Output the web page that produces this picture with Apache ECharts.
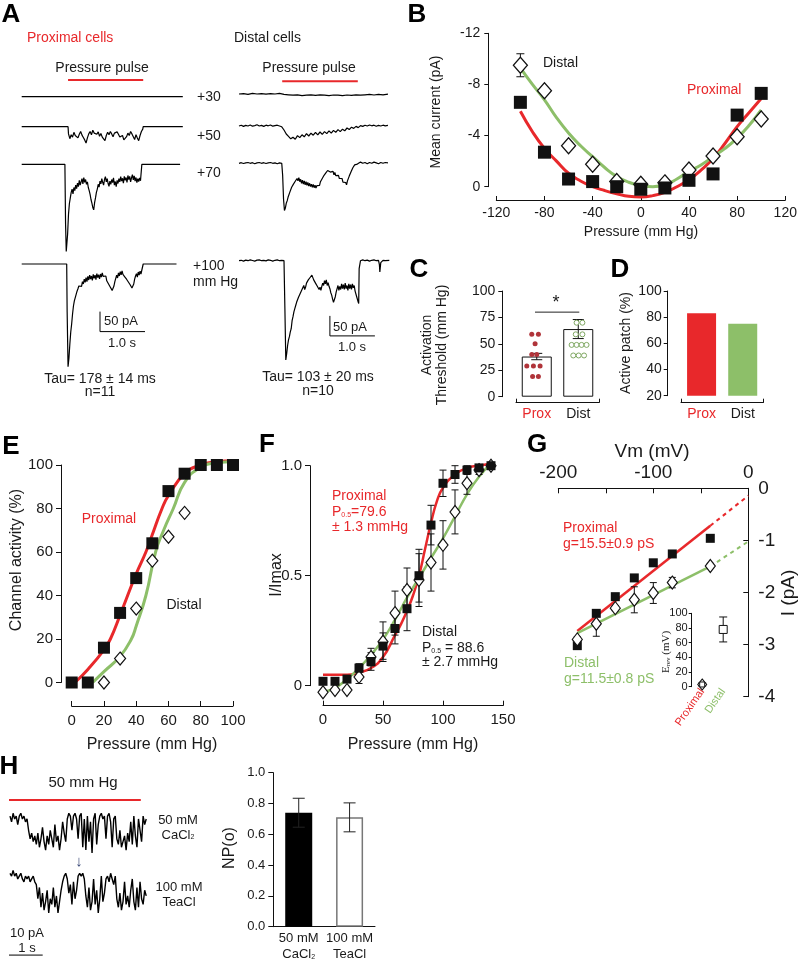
<!DOCTYPE html>
<html>
<head>
<meta charset="utf-8">
<script src="https://cdn.jsdelivr.net/npm/echarts@6.0.0/dist/echarts.min.js"></script>
<style>html,body{margin:0;padding:0;background:#fff;}#chart{width:798px;height:960px;}</style>
</head>
<body>
<div id="chart"></div>
<script>
// ======================= DATA =======================
// Panel A: current traces, [time (s), current (pA)]
const traceProx30 = [[0,0],[3.58,0]];
const traceDist30 = [[0,0],[0.1,1],[0.2,-1],[0.3,1.5],[0.4,0],[0.5,1],[0.6,-0.5],[0.7,1],[0.8,0],[0.9,1.5],[1.0,-1],[1.1,-2],[1.2,-3],[1.3,-2],[1.4,-4],[1.5,-3],[1.6,-2],[1.7,-3.5],[1.8,-2],[1.9,-3],[2.0,-4],[2.1,-2.5],[2.2,-3],[2.3,-4],[2.4,-2.5],[2.5,-3.5],[2.6,-2],[2.7,-3],[2.8,-2],[2.9,-1],[3.0,-2.5],[3.1,-1],[3.2,-2],[3.31,-0.5]];
const traceProx50 = [[0,0],[1.03,0],[1.04,-18],[1.07,-30],[1.10,-20],[1.13,-26],[1.16,-14],[1.19,-22],[1.22,-17],[1.25,-28],[1.28,-19],[1.31,-12],[1.34,-21],[1.37,-27],[1.40,-33],[1.43,-41],[1.46,-28],[1.49,-18],[1.52,-12],[1.55,-20],[1.58,-9],[1.61,-16],[1.64,-11],[1.67,-19],[1.70,-13],[1.73,-24],[1.76,-17],[1.79,-26],[1.82,-30],[1.85,-35],[1.88,-22],[1.91,-14],[1.94,-20],[1.97,-12],[2.00,-18],[2.03,-25],[2.06,-16],[2.09,-21],[2.12,-13],[2.15,-19],[2.18,-26],[2.21,-30],[2.24,-22],[2.27,-33],[2.30,-38],[2.33,-25],[2.36,-16],[2.39,-22],[2.42,-12],[2.45,-18],[2.48,-25],[2.51,-32],[2.54,-20],[2.57,-28],[2.60,-35],[2.63,-22],[2.66,-12],[2.69,-6],[2.70,0],[3.58,0]];
const traceDist50 = [[0,0],[0.05,2],[0.1,-1],[0.15,1.5],[0.2,0],[0.25,2.5],[0.3,-0.5],[0.35,1],[0.4,3],[0.45,0],[0.5,1.5],[0.55,-1],[0.6,2],[0.65,0.5],[0.7,2.5],[0.75,-0.5],[0.8,1],[0.85,2],[0.9,0],[0.95,-2],[1.0,-10],[1.05,-20],[1.1,-26],[1.15,-32],[1.2,-28],[1.25,-33],[1.3,-24],[1.35,-29],[1.4,-22],[1.45,-27],[1.5,-19],[1.55,-25],[1.6,-18],[1.65,-23],[1.7,-16],[1.75,-22],[1.8,-15],[1.85,-21],[1.9,-14],[1.95,-19],[2.0,-12],[2.05,-18],[2.1,-11],[2.15,-16],[2.2,-9],[2.25,-14],[2.3,-8],[2.35,-12],[2.4,-5],[2.45,-9],[2.5,-3],[2.55,-6],[2.6,-1],[2.65,-4],[2.7,1],[2.75,-1],[2.8,2],[2.85,0],[2.9,2.5],[2.95,0.5],[3.0,2],[3.05,-0.5],[3.1,1.5],[3.15,0],[3.2,2],[3.25,0.5],[3.31,1.5]];
const traceProx70 = [[0,0],[0.96,0],[0.975,-150],[0.99,-218],[1.00,-218],[1.02,-175],[1.04,-125],[1.06,-98],[1.08,-84],[1.10,-70],[1.12,-62],[1.14,-74],[1.16,-58],[1.18,-66],[1.20,-52],[1.22,-61],[1.24,-47],[1.26,-56],[1.28,-40],[1.30,-52],[1.32,-44],[1.34,-36],[1.36,-49],[1.38,-33],[1.40,-45],[1.42,-38],[1.44,-50],[1.46,-44],[1.48,-58],[1.50,-66],[1.52,-75],[1.54,-88],[1.56,-97],[1.58,-108],[1.60,-114],[1.62,-96],[1.64,-84],[1.66,-70],[1.68,-62],[1.70,-50],[1.72,-57],[1.74,-42],[1.76,-49],[1.78,-36],[1.80,-45],[1.82,-52],[1.84,-38],[1.86,-31],[1.88,-44],[1.90,-36],[1.92,-48],[1.94,-55],[1.96,-42],[1.98,-50],[2.00,-38],[2.02,-46],[2.04,-34],[2.06,-52],[2.08,-43],[2.10,-56],[2.12,-40],[2.14,-48],[2.16,-36],[2.18,-44],[2.20,-31],[2.22,-42],[2.24,-35],[2.26,-47],[2.28,-30],[2.30,-40],[2.32,-33],[2.34,-45],[2.36,-28],[2.38,-38],[2.40,-30],[2.42,-44],[2.44,-34],[2.46,-26],[2.48,-39],[2.50,-29],[2.52,-42],[2.54,-33],[2.56,-46],[2.58,-36],[2.60,-43],[2.62,-34],[2.64,-41],[2.66,-37],[2.67,0],[3.0,0],[3.03,-3],[3.06,0],[3.33,0],[3.36,-4],[3.39,0],[3.52,0]];
const traceDist70 = [[0,0],[0.05,1.5],[0.1,-0.5],[0.15,1],[0.2,2],[0.25,0],[0.3,1.5],[0.35,-1],[0.4,1],[0.45,2],[0.5,0],[0.55,1.5],[0.6,-0.5],[0.65,1],[0.7,2],[0.75,0],[0.8,1],[0.85,-1],[0.9,1],[0.95,0],[0.97,-30],[0.99,-90],[1.01,-118],[1.03,-112],[1.05,-100],[1.07,-94],[1.09,-85],[1.11,-80],[1.13,-72],[1.15,-68],[1.17,-60],[1.19,-62],[1.21,-52],[1.23,-55],[1.25,-45],[1.27,-48],[1.29,-38],[1.31,-44],[1.33,-36],[1.35,-46],[1.37,-40],[1.39,-50],[1.41,-42],[1.43,-52],[1.45,-44],[1.47,-54],[1.49,-46],[1.51,-55],[1.53,-48],[1.55,-57],[1.57,-50],[1.59,-58],[1.61,-52],[1.63,-60],[1.65,-53],[1.67,-61],[1.69,-55],[1.71,-62],[1.73,-56],[1.75,-60],[1.77,-52],[1.79,-55],[1.81,-46],[1.83,-47],[1.85,-38],[1.87,-40],[1.89,-30],[1.91,-33],[1.93,-24],[1.95,-27],[1.97,-18],[1.99,-21],[2.01,-14],[2.03,-22],[2.05,-17],[2.07,-26],[2.09,-20],[2.11,-29],[2.13,-23],[2.15,-31],[2.17,-26],[2.19,-35],[2.21,-30],[2.23,-38],[2.25,-33],[2.27,-42],[2.29,-38],[2.31,-47],[2.33,-44],[2.35,-52],[2.37,-48],[2.39,-54],[2.41,-44],[2.43,-42],[2.45,-32],[2.47,-30],[2.49,-21],[2.51,-19],[2.53,-11],[2.55,-10],[2.57,-4],[2.59,-5],[2.61,0],[2.63,-2],[2.65,2],[2.7,3],[2.75,0],[2.8,2],[2.85,-1],[2.9,2],[2.95,0],[3.0,3],[3.05,1],[3.1,-1],[3.15,2],[3.2,0],[3.25,2],[3.31,1]];
const traceProx100 = [[0,0],[1.0,0],[1.01,-120],[1.03,-257],[1.05,-235],[1.07,-200],[1.09,-170],[1.11,-150],[1.13,-125],[1.15,-105],[1.17,-92],[1.19,-84],[1.21,-76],[1.23,-68],[1.25,-62],[1.27,-55],[1.29,-60],[1.31,-50],[1.33,-56],[1.35,-44],[1.37,-50],[1.39,-38],[1.41,-46],[1.43,-34],[1.45,-44],[1.47,-31],[1.49,-40],[1.51,-28],[1.53,-38],[1.55,-30],[1.57,-41],[1.59,-26],[1.61,-36],[1.63,-28],[1.65,-39],[1.67,-24],[1.69,-34],[1.71,-27],[1.73,-37],[1.75,-25],[1.77,-33],[1.79,-22],[1.81,-31],[1.83,-26],[1.85,-36],[1.87,-30],[1.89,-42],[1.91,-38],[1.93,-50],[1.95,-47],[1.97,-58],[1.99,-55],[2.01,-66],[2.03,-69],[2.05,-55],[2.07,-44],[2.09,-36],[2.11,-28],[2.13,-35],[2.15,-22],[2.17,-30],[2.19,-19],[2.21,-27],[2.23,-17],[2.25,-26],[2.27,-21],[2.29,-32],[2.31,-28],[2.33,-38],[2.35,-34],[2.37,-45],[2.39,-42],[2.41,-52],[2.43,-50],[2.45,-60],[2.47,-65],[2.49,-50],[2.51,-38],[2.53,-30],[2.55,-24],[2.57,-33],[2.59,-20],[2.61,-28],[2.63,-18],[2.65,-25],[2.67,-15],[2.69,-20],[2.70,0],[3.44,0]];
const traceDist100 = [[0,0],[0.05,1],[0.1,-1],[0.15,1.5],[0.2,0],[0.25,2],[0.3,0.5],[0.35,-1],[0.4,1.5],[0.45,2],[0.5,0],[0.55,1],[0.6,-0.5],[0.65,2],[0.7,1],[0.75,-1],[0.8,1],[0.85,2],[0.9,0],[0.95,1],[1.0,0],[1.02,-120],[1.04,-248],[1.06,-232],[1.08,-212],[1.10,-198],[1.12,-190],[1.14,-178],[1.16,-170],[1.18,-150],[1.20,-140],[1.22,-128],[1.24,-120],[1.26,-112],[1.28,-104],[1.30,-100],[1.32,-92],[1.34,-90],[1.36,-82],[1.38,-80],[1.40,-72],[1.42,-68],[1.44,-62],[1.46,-72],[1.48,-66],[1.50,-56],[1.52,-60],[1.54,-48],[1.56,-52],[1.58,-42],[1.60,-46],[1.62,-36],[1.64,-40],[1.66,-48],[1.68,-44],[1.70,-56],[1.72,-52],[1.74,-64],[1.76,-60],[1.78,-72],[1.80,-66],[1.82,-74],[1.84,-64],[1.86,-56],[1.88,-62],[1.90,-50],[1.92,-58],[1.94,-48],[1.96,-62],[1.98,-55],[2.00,-64],[2.02,-70],[2.04,-80],[2.06,-86],[2.08,-96],[2.10,-104],[2.12,-107],[2.14,-90],[2.16,-78],[2.18,-70],[2.20,-62],[2.22,-74],[2.24,-64],[2.26,-72],[2.28,-58],[2.30,-70],[2.32,-60],[2.34,-72],[2.36,-56],[2.38,-70],[2.40,-62],[2.42,-74],[2.44,-58],[2.46,-70],[2.48,-60],[2.50,-72],[2.52,-58],[2.54,-68],[2.56,-62],[2.58,-76],[2.60,-80],[2.62,-92],[2.64,-100],[2.66,-107],[2.67,-20],[2.7,0],[2.75,2],[2.8,0],[2.85,1.5],[2.9,-1],[2.95,1],[3.0,2],[3.05,0],[3.1,1],[3.12,-10],[3.13,-28],[3.15,-5],[3.2,1],[3.25,0],[3.34,1]];
const pulseProx = [[1.03,42],[2.70,42]];
const pulseDist = [[0.96,32],[2.64,32]];
const scaleBarProx = [[1.74,-119],[1.74,-169],[2.74,-169]];   // 50 pA, 1.0 s
const scaleBarDist = [[2.02,-138],[2.02,-188],[3.02,-188]];   // 50 pA, 1.0 s

// Panel B: mean current vs pressure
const bPressure = [-100,-80,-60,-40,-20,0,20,40,60,80,100];
const bProximal = [-6.6,-2.7,-0.6,-0.4,0.0,0.2,0.1,-0.5,-1.0,-5.6,-7.3];
const bDistal   = [-9.5,-7.5,-3.2,-1.75,-0.4,-0.2,-0.3,-1.3,-2.4,-3.9,-5.3];
const bDistalErr= [0.9,0,0,0,0,0,0,0,0,0,0];
const bProxFit = [[-100,-5.9],[-90,-4.3],[-80,-3.0],[-70,-2.0],[-60,-1.05],[-50,-0.45],[-40,0.0],[-30,0.3],[-20,0.55],[-10,0.75],[0,0.8],[10,0.7],[20,0.45],[30,0.0],[40,-0.55],[50,-1.3],[60,-2.2],[70,-3.4],[80,-4.7],[90,-5.8],[100,-6.9]];
const bDistFit = [[-100,-9.3],[-90,-8.0],[-80,-6.8],[-70,-5.4],[-60,-4.2],[-50,-3.2],[-40,-2.35],[-30,-1.5],[-20,-0.8],[-10,-0.35],[0,-0.1],[10,0.0],[20,-0.15],[30,-0.6],[40,-1.2],[50,-1.7],[60,-2.35],[70,-3.0],[80,-3.8],[90,-4.8],[100,-6.0]];

// Panel C: activation threshold
const cCategories = ['Prox','Dist'];
const cMeans = [38, 64];
const cErr = [3, 9];
const cProxDots = [[0.38,59],[0.54,59],[0.46,50],[0.38,40],[0.5,40],[0.26,29],[0.42,29],[0.58,29],[0.40,19],[0.54,19]];
const cDistDots = [[1.46,70],[1.60,70],[1.44,59],[1.60,59],[1.34,49],[1.46,49],[1.58,49],[1.70,49],[1.38,39],[1.51,39],[1.64,39]];
const cSigLine = [[0.458,80],[1.525,80]];

// Panel D: active patch
const dCategories = ['Prox','Dist'];
const dValues = [83, 75];

// Panel E: channel activity
const ePressure = [0,10,20,30,40,50,60,70,80,90,100];
const eProximal = [0,0,16,32,48,64,88,96,100,100,100];
const eDistPressure = [20,30,40,50,60,70];
const eDistal = [0,11,34,56,67,78];
const eProxFit = [[2,0],[10,6],[20,15],[24,20],[30,31],[40,50],[46,60],[50,68],[56,80],[60,86],[70,96],[80,100],[90,101.5],[100,102]];
const eDistFit = [[13,0],[20,5],[30,12],[37,20],[40,26],[46,40],[52,60],[57,70],[63,80],[70,92],[80,99],[90,101],[100,101.5]];

// Panel F: normalized current
const fPressure = [0,10,20,30,40,50,60,70,80,90,100,110,120,130,140];
const fProximal = [0.02,0.02,0.03,0.08,0.11,0.18,0.26,0.35,0.50,0.73,0.92,0.96,0.98,0.99,1.0];
const fProxErr  = [0,0,0,0.02,0.04,0.06,0.07,0.1,0.12,0.09,0.06,0.04,0.02,0,0];
const fDistal   = [-0.03,-0.02,-0.02,0.04,0.13,0.2,0.33,0.435,0.48,0.56,0.64,0.79,0.92,0.98,1.0];
const fDistErr  = [0,0,0,0.03,0.04,0.09,0.1,0.1,0.12,0.13,0.11,0.1,0.05,0.02,0];
const fProxFit = [[0,0.05],[20,0.05],[30,0.06],[40,0.08],[50,0.13],[60,0.23],[65,0.28],[70,0.34],[75,0.41],[80,0.5],[85,0.62],[90,0.74],[95,0.84],[100,0.9],[110,0.96],[120,0.99],[130,1.0],[140,1.01]];
const fDistFit = [[0,-0.03],[10,-0.01],[20,0.03],[30,0.08],[40,0.14],[50,0.21],[60,0.3],[70,0.4],[80,0.49],[90,0.58],[100,0.67],[110,0.77],[120,0.87],[130,0.95],[140,1.01]];

// Panel G: I-V
const gVm = [-180,-160,-140,-120,-100,-80,-40];
const gProximal = [-3.02,-2.40,-2.08,-1.72,-1.43,-1.26,-0.96];
const gDistal   = [-2.90,-2.60,-2.30,-2.14,-2.01,-1.81,-1.49];
const gDistErr  = [0.05,0.24,0.05,0.25,0.2,0.1,0.05];
const gProxFit = [[-180,-2.74],[-40,-0.72]];
const gProxExt = [[-40,-0.72],[0,-0.14]];
const gDistFit = [[-180,-2.78],[-40,-1.50]];
const gDistExt = [[-40,-1.50],[0,-1.02]];
const gInsetCats = ['Proximal','Distal'];
const gInsetErev = [3, 78];
const gInsetErr = [2, 17];

// Panel H: single channel
const hDt = 0.04;
const hTrace1 = [-1,-3,0,-2,-1,-4,-1,0,-2,-1,-3,-2, -6,-9,-7,-10, -8,-11,-7,-12,-9,-5,-10,-13,-8,-11,-6,-9,-12,-4,-10,-8,-13,-9,-3,-7,-10, -2,0,-1,-6,-1,0,-2,-9,-1,0, -12,-2,-13,-1,-10,-3,-14,-2,0,-11,-4,-1, 0,-2,-1,-9,-1,0,-3,-12,-2,-1, -9,-11,-6,-12,-10,-8,-13,-7,-10, -3,-11,-1,-8,-12,-2,-6,-10,-1,-4,-2];
const hTrace2 = [0,-1,1,-1,0,-2,-1,0,-2,-3,-1,-2,-1,-3,-2,-1,-3,-4, -9,-5,-12,-7,-13,-10,-6,-14,-9,-11,-5,-12,-8,-14,-10,-6,-3,-1, 0,-2,-7,-4,-11,-3,-9,-6,-1, 0,-1,0,-2, -8,-12,-5,-13,-10,-2,-11,-6,-14,-9,-1,-10,-7, -2,-1,-3,0,-2,-4,-1, -9,-12,-7,-13,-10,-3,-11,-8,-12,-6, -2,-10,-13,-5,-12,-3,-9,-11,-6,-8];
const hPulse = [[-0.06,4.7],[3.38,4.7]];
const hScaleBar = [[-0.155,-18.9],[-0.155,-28.9],[0.845,-28.9]];   // 10 pA, 1 s
const hCategories = ['50 mM\nCaCl{s|2}','100 mM\nTeaCl'];
const hNPo = [0.74, 0.71];
const hErr = [0.094, 0.094];

// ======================= BUILD =======================
const FONT = '"Liberation Sans", Arial, Helvetica, sans-serif';
const SERIF = '"Liberation Serif", "Times New Roman", serif';
const RED = '#e8282b';
const GREEN = '#8dbf69';
const INK = '#111';
const TXT = '#1a1a1a';

const grids=[], xAxes=[], yAxes=[], series=[], graphic=[];
function merge(a,b){const o=Object.assign({},a);for(const k in b){const v=b[k];if(v&&typeof v==='object'&&!Array.isArray(v)&&a[k]&&typeof a[k]==='object'&&!Array.isArray(a[k]))o[k]=merge(a[k],v);else o[k]=v;}return o;}
function addGrid(left,top,width,height){grids.push({left,top,width,height,containLabel:false,outerBoundsMode:'none'});return grids.length-1;}
function addX(o){xAxes.push(o);return xAxes.length-1;}
function addY(o){yAxes.push(o);return yAxes.length-1;}
function hidden(gi,min,max){return {type:'value',gridIndex:gi,min,max,show:false,splitLine:{show:false}};}
function axisBase(fs){return {axisLine:{show:true,onZero:false,lineStyle:{color:INK,width:1}},axisTick:{show:true,length:4,lineStyle:{color:INK,width:1}},axisLabel:{color:TXT,fontSize:fs,fontFamily:FONT},splitLine:{show:false}};}
function zip(xs,ys){return xs.map((x,i)=>[x,ys[i]]);}
function lineS(xi,yi,data,color,width,extra){series.push(merge({type:'line',xAxisIndex:xi,yAxisIndex:yi,data,symbol:'none',clip:false,silent:true,animation:false,lineStyle:{color,width},z:2},extra||{}));}
function scat(xi,yi,data,symbol,size,fill,stroke,bw,z){series.push({type:'scatter',xAxisIndex:xi,yAxisIndex:yi,data,symbol,symbolSize:size,clip:false,silent:true,animation:false,itemStyle:{color:fill,borderColor:stroke,borderWidth:bw,opacity:1},z:z||4});}
function errS(xi,yi,data,cap,z,color){series.push({type:'custom',coordinateSystem:'cartesian2d',xAxisIndex:xi,yAxisIndex:yi,data,silent:true,animation:false,z:z||3,
  renderItem:function(p,api){const x=api.value(0),lo=api.value(1),hi=api.value(2);const a=api.coord([x,lo]),b=api.coord([x,hi]);const st={stroke:color||INK,lineWidth:1};
   return {type:'group',children:[{type:'line',shape:{x1:a[0],y1:a[1],x2:b[0],y2:b[1]},style:st},{type:'line',shape:{x1:a[0]-cap,y1:a[1],x2:a[0]+cap,y2:a[1]},style:st},{type:'line',shape:{x1:b[0]-cap,y1:b[1],x2:b[0]+cap,y2:b[1]},style:st}]};}});}
function T(x,y,text,o){o=o||{};graphic.push({type:'text',x,y,rotation:o.rot||0,silent:true,z:100,style:{text,fill:o.color||TXT,fontSize:o.size||14,fontFamily:o.family||FONT,fontWeight:o.weight||'normal',align:o.align||'center',verticalAlign:'middle',lineHeight:o.lh,rich:o.rich}});}
function errData(xs,ys,es){const out=[];xs.forEach((x,i)=>{if(es[i]>0)out.push([x,ys[i]-es[i],ys[i]+es[i]]);});return out;}

// ---------- Panel A ----------
function traceGrid(left,baseline,tMax,pxS,pxU,yMin,yMax){const gi=addGrid(left,baseline-yMax*pxU,tMax*pxS,(yMax-yMin)*pxU);return [addX(hidden(gi,0,tMax)),addY(hidden(gi,yMin,yMax))];}
const A_PXS=45, A_PXU=0.4;
const aTraces=[[21.7,96.7,traceProx30,pulseProx,null],[21.7,126.7,traceProx50],[21.7,164.3,traceProx70],[21.7,264,traceProx100,null,scaleBarProx],
               [239,94,traceDist30,pulseDist,null],[239,126,traceDist50],[239,163.3,traceDist70],[239,260.7,traceDist100,null,scaleBarDist]];
aTraces.forEach(tr=>{const [xi,yi]=traceGrid(tr[0],tr[1],3.6,A_PXS,A_PXU,-270,60);
  lineS(xi,yi,tr[2],'#000',1.2);
  if(tr[3]) lineS(xi,yi,tr[3],RED,2);
  if(tr[4]) lineS(xi,yi,tr[4],'#000',1);});
T(11,15,'A',{size:26,weight:'bold',color:'#000'});
T(27,38,'Proximal cells',{align:'left',color:RED});
T(234,38,'Distal cells',{align:'left'});
T(102,68,'Pressure pulse');
T(309,68,'Pressure pulse');
T(197,97,'+30',{align:'left'});T(197,136,'+50',{align:'left'});T(197,173,'+70',{align:'left'});
T(193,266,'+100',{align:'left'});T(193,282,'mm Hg',{align:'left'});
T(104,321,'50 pA',{align:'left',size:13});T(122,343,'1.0 s',{size:13});
T(333,327,'50 pA',{align:'left',size:13});T(352,347,'1.0 s',{size:13});
T(100,379,'Tau= 178 ± 14 ms');T(100,392,'n=11');
T(318,377,'Tau= 103 ± 20 ms');T(318,391,'n=10');

// ---------- Panel B ----------
const gB=addGrid(496.3,33.3,289,153.4);
const xB=addX(merge(axisBase(14),{type:'value',gridIndex:gB,position:'bottom',min:-120,max:120,interval:40,offset:13.3,axisTick:{inside:true},axisLabel:{margin:6}}));
const yB=addY(merge(axisBase(14),{type:'value',gridIndex:gB,position:'left',min:-12,max:0,interval:4,inverse:true,offset:8,axisLabel:{margin:8}}));
lineS(xB,yB,bProxFit,RED,3,{smooth:true});
lineS(xB,yB,bDistFit,GREEN,3,{smooth:true});
errS(xB,yB,errData(bPressure,bDistal,bDistalErr),4,3);
scat(xB,yB,zip(bPressure,bDistal),'diamond',[14,16],'#fff',INK,1.3,4);
scat(xB,yB,zip(bPressure,bProximal),'rect',13,INK,INK,0,5);
T(417,15,'B',{size:26,weight:'bold',color:'#000'});
T(543,63,'Distal',{align:'left'});
T(687,90,'Proximal',{align:'left',color:RED});
T(436,112,'Mean current (pA)',{rot:Math.PI/2});
T(641,232,'Pressure (mm Hg)');

// ---------- Panel C ----------
const gC=addGrid(516,291,83,105.7);
const yC=addY(merge(axisBase(14),{type:'value',gridIndex:gC,position:'left',min:0,max:100,interval:25,offset:13.7,axisLabel:{margin:7}}));
const xCc=addX({type:'category',gridIndex:gC,position:'bottom',data:cCategories,offset:6,axisLine:{show:false},axisTick:{show:false},splitLine:{show:false},
  axisLabel:{interval:0,fontSize:14,fontFamily:FONT,margin:4,color:(v,i)=>i===0?RED:TXT}});
const xCv=addX(merge(axisBase(14),{type:'value',gridIndex:gC,position:'bottom',min:0,max:2,interval:2,offset:6,axisTick:{inside:true,length:4},axisLabel:{show:false}}));
series.push({type:'bar',xAxisIndex:xCc,yAxisIndex:yC,data:cMeans,barWidth:30,silent:true,animation:false,itemStyle:{color:'#fff',borderColor:INK,borderWidth:1},z:2});
errS(xCc,yC,cMeans.map((m,i)=>[i,m-cErr[i],m+cErr[i]]),5.5,3);
scat(xCv,yC,cProxDots,'circle',5,'#b0343a','#b0343a',0,4);
scat(xCv,yC,cDistDots,'circle',5,'#fff','#7fa862',1,4);
lineS(xCv,yC,cSigLine,'#222',1);
T(419,270,'C',{size:26,weight:'bold',color:'#000'});
T(435,345,'Activation\nThreshold (mm Hg)',{rot:Math.PI/2,lh:15});
T(556,303,'*',{size:18});

// ---------- Panel D ----------
const gD=addGrid(681,291,82.3,104.7);
const yD=addY(merge(axisBase(14),{type:'value',gridIndex:gD,position:'left',min:20,max:100,interval:20,offset:13.3,axisLabel:{margin:6}}));
const xDc=addX({type:'category',gridIndex:gD,position:'bottom',data:dCategories,offset:7,axisLine:{show:false},axisTick:{show:false},splitLine:{show:false},
  axisLabel:{interval:0,fontSize:14,fontFamily:FONT,margin:4,color:(v,i)=>i===0?RED:TXT}});
addX(merge(axisBase(14),{type:'value',gridIndex:gD,position:'bottom',min:0,max:2,interval:2,offset:7,axisTick:{inside:true,length:4},axisLabel:{show:false}}));
series.push({type:'bar',xAxisIndex:xDc,yAxisIndex:yD,barWidth:29,silent:true,animation:false,z:2,
  data:dValues.map((v,i)=>({value:v,itemStyle:{color:i===0?RED:GREEN}}))});
T(620,270,'D',{size:26,weight:'bold',color:'#000'});
T(626,343,'Active patch (%)',{rot:Math.PI/2});

// ---------- Panel E ----------
const gE=addGrid(71.7,465,161.3,217.5);
const xE=addX(merge(axisBase(15),{type:'value',gridIndex:gE,position:'bottom',min:0,max:100,interval:20,offset:23.5,axisTick:{inside:true,length:5},axisLabel:{margin:7}}));
const yE=addY(merge(axisBase(15),{type:'value',gridIndex:gE,position:'left',min:0,max:100,interval:20,offset:10.7,axisTick:{length:5},axisLabel:{margin:8}}));
lineS(xE,yE,eProxFit,RED,3,{smooth:true});
lineS(xE,yE,eDistFit,GREEN,3,{smooth:true});
scat(xE,yE,zip(eDistPressure,eDistal),'diamond',[11,13],'#fff',INK,1.2,4);
scat(xE,yE,zip(ePressure,eProximal),'rect',12,INK,INK,0,5);
T(11,447,'E',{size:26,weight:'bold',color:'#000'});
T(17,560,'Channel activity (%)',{rot:Math.PI/2,size:16});
T(109,519,'Proximal',{color:RED});
T(184,605,'Distal');
T(152,745,'Pressure (mm Hg)',{size:16});

// ---------- Panel F ----------
const gF=addGrid(323,465.7,180,220);
const xF=addX(merge(axisBase(15),{type:'value',gridIndex:gF,position:'bottom',min:0,max:150,interval:50,offset:20,axisTick:{inside:true,length:5},axisLabel:{margin:7}}));
const yF=addY(merge(axisBase(15),{type:'value',gridIndex:gF,position:'left',min:0,max:1,interval:0.5,offset:13,axisTick:{length:5},axisLabel:{margin:8,formatter:v=>v===0?'0':v.toFixed(1)}}));
lineS(xF,yF,fProxFit,RED,2.5,{smooth:true});
lineS(xF,yF,fDistFit,GREEN,2.5,{smooth:true});
errS(xF,yF,errData(fPressure,fDistal,fDistErr),3.5,3);
errS(xF,yF,errData(fPressure,fProximal,fProxErr),3.5,3);
scat(xF,yF,zip(fPressure,fDistal),'diamond',[10,13],'#fff',INK,1.2,4);
scat(xF,yF,zip(fPressure,fProximal),'rect',9,INK,INK,0,5);
T(267,445,'F',{size:26,weight:'bold',color:'#000'});
T(277,575,'I/Imax',{rot:Math.PI/2,size:16});
T(332,496,'Proximal',{align:'left',color:RED});
T(332,512,'P{s|0.5}=79.6',{align:'left',color:RED,rich:{s:{fontSize:7,fill:RED,padding:[6,0,0,0]}}});
T(332,527,'± 1.3 mmHg',{align:'left',color:RED});
T(422,632,'Distal',{align:'left'});
T(422,648,'P{s|0.5} = 88.6',{align:'left',rich:{s:{fontSize:7,fill:TXT,padding:[6,0,0,0]}}});
T(422,662,'± 2.7 mmHg',{align:'left'});
T(413,745,'Pressure (mm Hg)',{size:16});

// ---------- Panel G ----------
const gG=addGrid(558.3,488.3,190,208.4);
const xG=addX(merge(axisBase(19),{type:'value',gridIndex:gG,position:'top',min:-200,max:0,interval:50,axisTick:{inside:true,length:5},axisLabel:{margin:6,formatter:v=>(v%100===0)?String(v):''}}));
const yG=addY(merge(axisBase(19),{type:'value',gridIndex:gG,position:'right',min:-4,max:0,interval:1,axisTick:{inside:true,length:5},axisLabel:{margin:10}}));
lineS(xG,yG,gProxFit,RED,2.5);
lineS(xG,yG,gProxExt,RED,2,{lineStyle:{type:[4,4]}});
lineS(xG,yG,gDistFit,GREEN,2.5);
lineS(xG,yG,gDistExt,GREEN,2,{lineStyle:{type:[4,4]}});
errS(xG,yG,errData(gVm,gDistal,gDistErr),3.5,3);
scat(xG,yG,zip(gVm,gProximal),'rect',9,INK,INK,0,4);
scat(xG,yG,zip(gVm,gDistal),'diamond',[10,13],'#fff',INK,1.2,5);
T(537,445,'G',{size:26,weight:'bold',color:'#000'});
T(652,452,'Vm (mV)',{size:19});
T(789,593,'I (pA)',{rot:Math.PI/2,size:19});
T(563,528,'Proximal',{align:'left',color:RED});
T(563,544,'g=15.5±0.9 pS',{align:'left',color:RED});
T(564,663,'Distal',{align:'left',color:GREEN});
T(564,679,'g=11.5±0.8 pS',{align:'left',color:GREEN});
// inset
const gI=addGrid(691.7,613.3,42,73.4);
const yI=addY(merge(axisBase(11),{type:'value',gridIndex:gI,position:'left',min:0,max:100,interval:20,axisTick:{length:3},axisLabel:{margin:4}}));
const xI=addX({type:'category',gridIndex:gI,position:'bottom',data:gInsetCats,axisLine:{show:false},axisTick:{show:false},splitLine:{show:false},
  axisLabel:{interval:0,rotate:55,fontSize:11,fontFamily:FONT,margin:3,color:(v,i)=>i===0?RED:GREEN}});
errS(xI,yI,gInsetErev.map((v,i)=>[i,v-gInsetErr[i],v+gInsetErr[i]]),4,3);
scat(xI,yI,[[0,gInsetErev[0]]],'diamond',[9,11],'#fff',INK,1,4);
scat(xI,yI,[[0,gInsetErev[0]]],'rect',5,'#fff',INK,1,5);
scat(xI,yI,[[1,gInsetErev[1]]],'rect',8,'#fff',INK,1,4);
T(666,652,'E{s|rev} (mV)',{rot:Math.PI/2,size:11,family:SERIF,rich:{s:{fontSize:7,fontFamily:SERIF,fill:TXT,padding:[4,0,0,0]}}});

// ---------- Panel H ----------
const H_PXS=38.7, H_PXU=2.83;
const [xH1,yH1]=traceGrid(10,813.3,3.6,H_PXS,H_PXU,-16,6);
lineS(xH1,yH1,hTrace1.map((v,i)=>[i*hDt,v]),'#000',1.4);
lineS(xH1,yH1,hPulse,RED,2);
const [xH2,yH2]=traceGrid(10,873.3,3.6,H_PXS,H_PXU,-32,6);
lineS(xH2,yH2,hTrace2.map((v,i)=>[i*hDt,v]),'#000',1.4);
lineS(xH2,yH2,hScaleBar,'#000',1);
T(9,767,'H',{size:26,weight:'bold',color:'#000'});
T(83,783,'50 mm Hg',{size:15});
T(178,820,'50 mM',{size:13});T(178,835,'CaCl{s|2}',{size:13,rich:{s:{fontSize:7,fill:TXT,padding:[5,0,0,0]}}});
T(179,887,'100 mM',{size:13});T(179,902,'TeaCl',{size:13});
T(79,862,'↓',{size:15,color:'#3b4a78'});
T(10,933,'10 pA',{align:'left',size:13});T(27,948,'1 s',{size:13});
const gHb=addGrid(273.3,772.7,101.7,154);
const yHb=addY(merge(axisBase(13),{type:'value',gridIndex:gHb,position:'left',min:0,max:1,interval:0.2,axisTick:{length:5},axisLabel:{margin:8,formatter:v=>v.toFixed(1)}}));
const xHb=addX(merge(axisBase(13),{type:'category',gridIndex:gHb,position:'bottom',data:hCategories,axisTick:{show:false},
  axisLabel:{interval:0,margin:4,lineHeight:16,rich:{s:{fontSize:7,color:TXT,padding:[5,0,0,0]}}}}));
series.push({type:'bar',xAxisIndex:xHb,yAxisIndex:yHb,barWidth:27,silent:true,animation:false,z:2,
  data:hNPo.map((v,i)=>({value:v,itemStyle:i===0?{color:'#000'}:{color:'#fff',borderColor:'#777',borderWidth:1.5}}))});
errS(xHb,yHb,hNPo.map((v,i)=>[i,v-hErr[i],v+hErr[i]]),6,3,'#222');
T(230,848,'NP(o)',{rot:Math.PI/2,size:16});

const chart=echarts.init(document.getElementById('chart'),null,{renderer:'canvas',width:798,height:960});
chart.setOption({animation:false,backgroundColor:'#fff',textStyle:{fontFamily:FONT},grid:grids,xAxis:xAxes,yAxis:yAxes,series,graphic});
</script>
</body>
</html>
